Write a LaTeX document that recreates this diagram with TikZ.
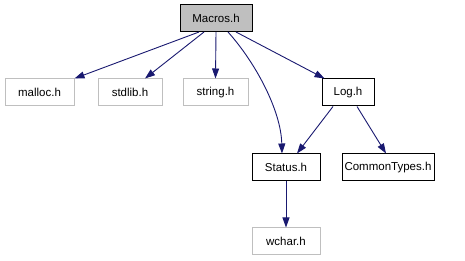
\documentclass[tikz,border=0pt]{standalone}
\usepackage{fontspec}
\setmainfont{Liberation Sans}
\usetikzlibrary{arrows.meta}
\definecolor{edgeblue}{HTML}{191970}
\definecolor{boxgray}{HTML}{BFBFBF}
\tikzset{
  hdr/.style={draw=black, line width=1pt, fill=white, minimum height=27pt,
    inner sep=0pt, font=\fontsize{11.5}{14}\selectfont},
  sysbox/.style={hdr, draw=boxgray},
  rootbox/.style={hdr, fill=boxgray},
  incl/.style={draw=edgeblue, line width=0.9pt,
    -{Triangle[length=10pt,width=7pt]}, color=edgeblue}
}
\begin{document}
\begin{tikzpicture}[x=1pt, y=-1pt]
  \useasboundingbox (0,0) rectangle (465,261);
  % header files
  \node[rootbox, minimum width=72pt] (macros) at (216,18) {Macros.h};
  \node[sysbox, minimum width=69pt] (malloc) at (39.5,92.5) {malloc.h};
  \node[sysbox, minimum width=64pt] (stdlib) at (130,92.5) {stdlib.h};
  \node[sysbox, minimum width=65pt] (string) at (215.5,92.5) {string.h};
  \node[hdr, minimum width=52pt] (log) at (348,92.5) {Log.h};
  \node[hdr, minimum width=68pt] (status) at (286,167.5) {Status.h};
  \node[hdr, minimum width=92pt] (common) at (388,167.5) {CommonTypes.h};
  \node[sysbox, minimum width=68pt] (wchar) at (286,241.5) {wchar.h};
  % include relations
  \draw[incl] ([xshift=-17pt]macros.south) -- (malloc.north east);
  \draw[incl] ([xshift=-12pt]macros.south) -- ([xshift=15pt]stdlib.north);
  \draw[incl] (macros.south) -- (string.north);
  \draw[incl] ([xshift=20pt]macros.south) -- ([xshift=3pt]log.north west);
  \draw[incl] ([xshift=12pt]macros.south) .. controls (255,62) and (281,110) .. ([xshift=-4pt]status.north);
  \draw[incl] ([xshift=-15pt]log.south) -- ([xshift=11pt]status.north);
  \draw[incl] ([xshift=9pt]log.south) -- ([xshift=-2pt]common.north);
  \draw[incl] (status.south) -- (wchar.north);
\end{tikzpicture}
\end{document}
